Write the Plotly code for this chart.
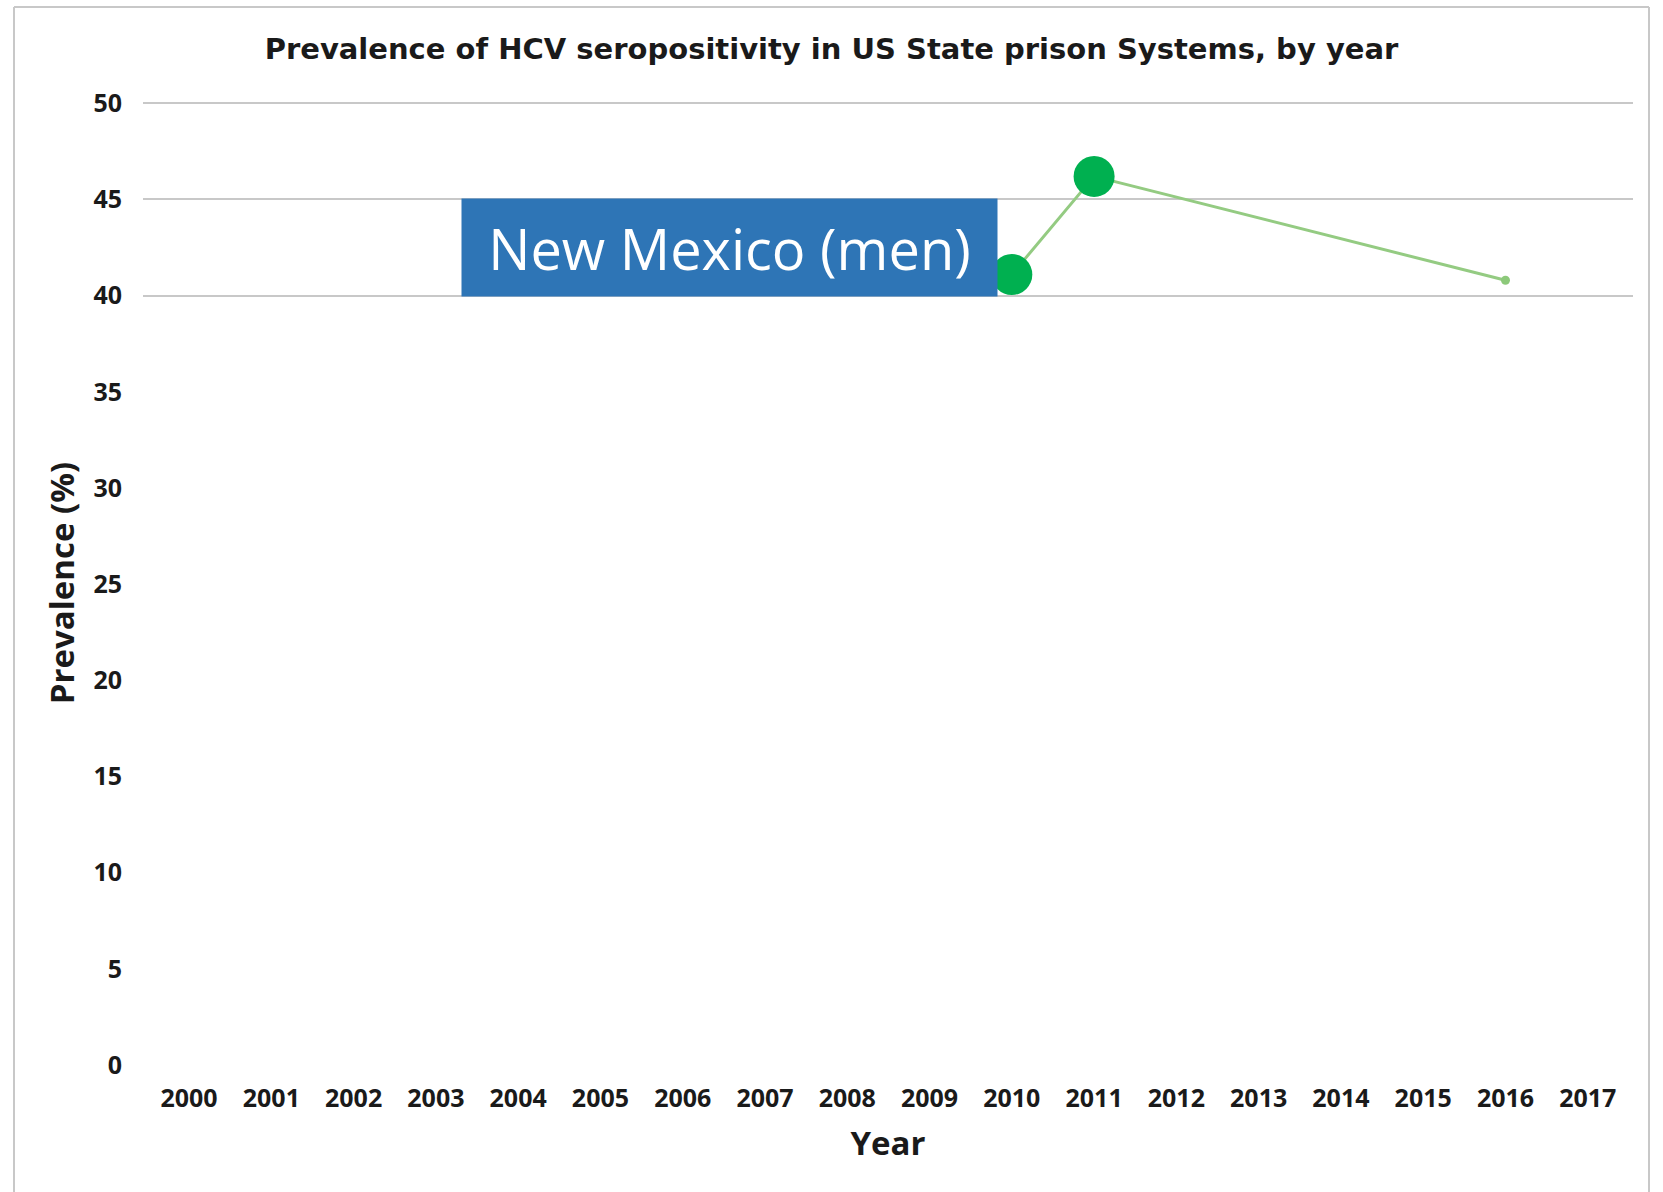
import plotly.graph_objects as go

# ---- data ----
years = [2010, 2011, 2016]
prevalence = [41.1, 46.2, 40.8]
tick_years = list(range(2000, 2018))
y_ticks = [0, 5, 10, 15, 20, 25, 30, 35, 40, 45, 50]
grid_ticks = [40, 45, 50]
title_text = "Prevalence of HCV seropositivity in US State prison Systems, by year"
label_text = "New Mexico (men)"

marker_sizes = [41, 41, 9]
marker_colors = ["#00b050", "#00b050", "#8cc97a"]

fig = go.Figure()
fig.add_trace(go.Scatter(
    x=years, y=prevalence, mode="lines+markers",
    line=dict(color="#94cb82", width=3),
    marker=dict(size=marker_sizes, color=marker_colors, opacity=1, line=dict(width=0)),
    showlegend=False, hoverinfo="x+y",
))
# invisible trace on overlay axis so gridlines at 40/45/50 are drawn
fig.add_trace(go.Scatter(x=[years[0]], y=[prevalence[0]], yaxis="y2",
                         mode="markers", marker=dict(opacity=0),
                         showlegend=False, hoverinfo="skip"))

tick_font = dict(family="Open Sans", size=25, color="#1a1a1a", weight="bold")
y_range = [0, 50.12]

fig.update_layout(
    width=1663, height=1192,
    margin=dict(l=143, r=30, t=101, b=127),
    paper_bgcolor="white", plot_bgcolor="rgba(0,0,0,0)",
    title=dict(text=title_text, x=0.5, xanchor="center", y=1 - 49 / 1192, yanchor="middle",
               font=dict(family="DejaVu Sans", size=29, color="#1a1a1a", weight="bold")),
    xaxis=dict(range=[1999.44, 2017.55], tickvals=tick_years,
               ticktext=[str(y) for y in tick_years],
               showgrid=False, zeroline=False, showline=False,
               ticks="", ticklabelstandoff=16, tickfont=tick_font,
               title=dict(text="Year", standoff=18,
                          font=dict(family="Open Sans", size=33, color="#1a1a1a", weight="bold"))),
    yaxis=dict(range=y_range, tickvals=y_ticks, showgrid=False, zeroline=False,
               showline=False, ticks="", ticklabelstandoff=20, tickfont=tick_font,
               title=dict(text="Prevalence (%)", standoff=8,
                          font=dict(family="Open Sans", size=33, color="#1a1a1a", weight="bold"))),
    yaxis2=dict(range=y_range, overlaying="y", tickvals=grid_ticks, showgrid=True,
                gridcolor="#c8c8c8", gridwidth=2, showticklabels=False, zeroline=False,
                showline=False, ticks=""),
)

fig.add_annotation(
    x=2006.57, y=42.5, xref="x", yref="y", text=label_text, showarrow=False,
    bgcolor="#2e75b6", width=535, height=97, borderpad=0, align="center", valign="middle",
    font=dict(family="Open Sans", size=56, color="white"),
)

# outer frame (left, top, right)
frame_col = "#c8c8c8"
x_left = (14 - 143) / 1490
x_right = (1649 - 143) / 1490
y_top = (1065 - 7) / 964
y_bot = -0.2
for x0, y0, x1, y1 in [(x_left, y_bot, x_left, y_top), (x_left, y_top, x_right, y_top),
                       (x_right, y_top, x_right, y_bot)]:
    fig.add_shape(type="line", xref="paper", yref="paper", x0=x0, y0=y0, x1=x1, y1=y1,
                  line=dict(color=frame_col, width=2))

fig.write_html("out.html")
